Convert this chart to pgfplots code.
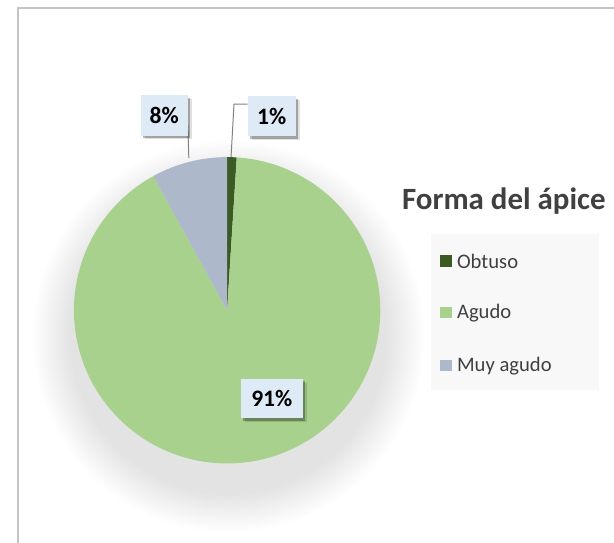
\documentclass[border=0pt]{standalone}
\usepackage{pgfplots}
\pgfplotsset{compat=1.18}
\usepackage{pgfplotstable}
\usepackage{fontspec}
\setmainfont{Carlito}
\usetikzlibrary{shadows,fadings}
\definecolor{cObt}{HTML}{3B5A24}
\definecolor{cAgu}{HTML}{A9D18E}
\definecolor{cMuy}{HTML}{ADB9CA}
\definecolor{labbg}{HTML}{DEEBF7}
\definecolor{legbg}{HTML}{F8F8F8}
\definecolor{txt}{HTML}{404040}
\definecolor{frameC}{HTML}{C4C4C4}
\definecolor{leader}{HTML}{808080}

\pgfplotstableread{
label value
Obtuso 1
Agudo 91
Muyagudo 8
}\piedata

\begin{document}
\pgfplotstablegetelem{0}{value}\of\piedata \let\vA\pgfplotsretval
\pgfplotstablegetelem{1}{value}\of\piedata \let\vB\pgfplotsretval
\pgfplotstablegetelem{2}{value}\of\piedata \let\vC\pgfplotsretval
\pgfmathsetmacro\tot{\vA+\vB+\vC}
\pgfmathsetmacro\aA{90}
\pgfmathsetmacro\aB{\aA-(\vA/\tot)*360}
\pgfmathsetmacro\aC{\aB-(\vB/\tot)*360}
\pgfmathsetmacro\aD{\aC-(\vC/\tot)*360}
\begin{tikzpicture}
\begin{axis}[
  scale only axis, width=614pt, height=553pt,
  xmin=0, xmax=614, ymin=0, ymax=553, y dir=reverse,
  hide axis, clip=false, at={(0,0)}, anchor=north west,
]
% frame
\draw[frameC, line width=1.5pt] (axis cs:7,553) -- (axis cs:7,8) -- (axis cs:614,8);
% pie shadow
\fill[black, opacity=0.11, path fading=circle with fuzzy edge 20 percent] (axis cs:221,342) circle [radius=200];
% slices
\addplot[fill=cObt, draw=none, domain=\aB:\aA, samples=8, variable=\t]
  ({220+156*cos(\t)},{316-156*sin(\t)}) -- (axis cs:220,316) -- cycle;
\addplot[fill=cAgu, draw=none, domain=\aC:\aB, samples=180, variable=\t]
  ({220+156*cos(\t)},{316-156*sin(\t)}) -- (axis cs:220,316) -- cycle;
\addplot[fill=cMuy, draw=none, domain=\aD:\aC, samples=30, variable=\t]
  ({220+156*cos(\t)},{316-156*sin(\t)}) -- (axis cs:220,316) -- cycle;
% leader lines
\draw[leader, line width=1pt] (axis cs:241,106) -- (axis cs:227,106) -- (axis cs:224,160);
\draw[leader, line width=1pt] (axis cs:180,128) -- (axis cs:181,161);
% data labels
\tikzset{dlab/.style={fill=labbg, inner sep=0pt, text=black,
  font=\bfseries\fontsize{24}{28}\selectfont,
  drop shadow={shadow xshift=4pt, shadow yshift=-4pt, opacity=0.12, fill=black},
  drop shadow={shadow xshift=2.5pt, shadow yshift=-2.5pt, opacity=0.28, fill=black}}}
\node[dlab, minimum width=48pt, minimum height=41pt] at (axis cs:156,117.5) {8\%};
\node[dlab, minimum width=49pt, minimum height=41pt] at (axis cs:265.5,118.5) {1\%};
\node[dlab, minimum width=63pt, minimum height=40pt] at (axis cs:265.5,406) {91\%};
% legend
\node[anchor=base west, inner sep=0pt, text=txt, font=\bfseries\fontsize{31.5}{36}\selectfont] at (axis cs:398,213) {Forma del ápice};
\fill[legbg] (axis cs:428,238.5) rectangle (axis cs:599,397);
\fill[cObt] (axis cs:437,260) rectangle (axis cs:449,271.5);
\fill[cAgu] (axis cs:437,312.5) rectangle (axis cs:449,323.5);
\fill[cMuy] (axis cs:437,366.5) rectangle (axis cs:449,377.5);
\tikzset{ltxt/.style={anchor=base west, inner sep=0pt, text=txt, font=\fontsize{21}{25}\selectfont}}
\node[ltxt] at (axis cs:454,273) {Obtuso};
\node[ltxt] at (axis cs:454,324.5) {Agudo};
\node[ltxt] at (axis cs:454,378) {Muy agudo};
\end{axis}
\pgfresetboundingbox
\useasboundingbox (current axis.south west) rectangle (current axis.north east);
\end{tikzpicture}
\end{document}
